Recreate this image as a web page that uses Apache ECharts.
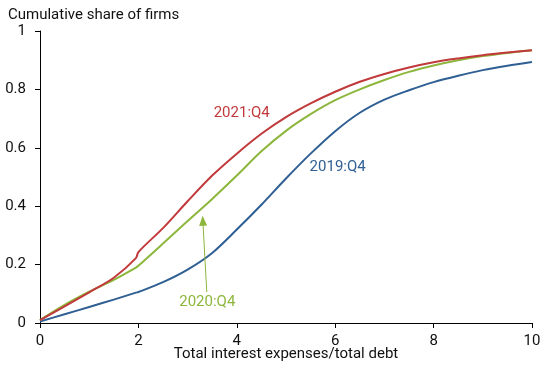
<!DOCTYPE html>
<html><head><meta charset="utf-8">
<script src="https://cdn.jsdelivr.net/npm/echarts@6/dist/echarts.min.js"></script>
<style>html,body{margin:0;padding:0;background:#fff}#c{width:550px;height:365px}</style>
</head><body><div id="c"></div>
<script>
const xValues = [0, 0.5, 1, 1.5, 1.95, 2, 2.5, 3, 3.5, 4, 4.5, 5, 5.5, 6, 6.5, 7, 7.5, 8, 8.5, 9, 9.5, 10];
const q4_2021 = [0.01, 0.057, 0.105, 0.155, 0.222, 0.243, 0.325, 0.417, 0.505, 0.58, 0.648, 0.705, 0.752, 0.792, 0.826, 0.853, 0.875, 0.893, 0.906, 0.917, 0.926, 0.934];
const q4_2020 = [0.01, 0.062, 0.107, 0.148, 0.19, 0.196, 0.272, 0.349, 0.425, 0.505, 0.588, 0.658, 0.715, 0.763, 0.80, 0.832, 0.86, 0.882, 0.9, 0.914, 0.925, 0.934];
const q4_2019 = [0.005, 0.03, 0.055, 0.08, 0.104, 0.106, 0.14, 0.183, 0.24, 0.32, 0.405, 0.495, 0.58, 0.657, 0.72, 0.765, 0.797, 0.825, 0.847, 0.866, 0.881, 0.894];
const seriesNames = ['2019:Q4', '2020:Q4', '2021:Q4'];
const xTicks = [0, 2, 4, 6, 8, 10];
const yTicks = [0, 0.2, 0.4, 0.6, 0.8, 1];
// label anchor points in data coordinates
const labelRed = [4.1, 0.72];
const labelBlue = [6.05, 0.535];
const labelGreen = [3.4, 0.072];
const arrowFrom = [3.39, 0.106];
const arrowTo = [3.31, 0.35];

const RED = '#c1393b', GREEN = '#8db63c', BLUE = '#2f5f93';
const pair = ys => xValues.map((x, i) => [x, ys[i]]);
const FONT = 'Roboto';

const chart = echarts.init(document.getElementById('c'), null, {renderer: 'canvas'});
const lbl = (coord, text, color) => ({
  coord: coord, value: text, symbolSize: 0,
  label: {show: true, formatter: text, color: color, fontSize: 15, fontFamily: FONT, position: 'inside'}
});
chart.setOption({
  animation: false,
  textStyle: {fontFamily: FONT},
  title: {text: 'Cumulative share of firms', left: 3, top: 3,
    textStyle: {fontSize: 15, fontWeight: 'normal', color: '#111', fontFamily: FONT}},
  grid: {left: 40, right: 18, top: 31, bottom: 42, containLabel: false, outerBoundsMode: 'none'},
  xAxis: {type: 'value', min: 0, max: 10, interval: 2,
    name: 'Total interest expenses/total debt', nameLocation: 'middle', nameGap: 24,
    nameMoveOverlap: false,
    nameTextStyle: {fontSize: 15, color: '#111', fontFamily: FONT},
    axisLine: {lineStyle: {color: '#000', width: 1}},
    axisTick: {show: true, length: 5, lineStyle: {color: '#000'}},
    axisLabel: {fontSize: 15, color: '#111', margin: 11, fontFamily: FONT,
      formatter: v => xTicks.includes(v) ? String(v) : ''},
    splitLine: {show: false}},
  yAxis: {type: 'value', min: 0, max: 1, interval: 0.2,
    axisLine: {show: true, lineStyle: {color: '#000', width: 1}},
    axisTick: {show: true, length: 5, lineStyle: {color: '#000'}},
    axisLabel: {fontSize: 15, color: '#111', margin: 14, fontFamily: FONT,
      formatter: v => { const t = yTicks.find(k => Math.abs(k - v) < 1e-9); return t === undefined ? '' : String(t); }},
    splitLine: {show: false}},
  series: [
    {name: seriesNames[0], type: 'line', data: pair(q4_2019), showSymbol: false, smooth: 0.3,
      lineStyle: {color: BLUE, width: 2}, itemStyle: {color: BLUE},
      markPoint: {data: [lbl(labelBlue, seriesNames[0], BLUE)]}},
    {name: seriesNames[1], type: 'line', data: pair(q4_2020), showSymbol: false, smooth: 0.3,
      lineStyle: {color: GREEN, width: 2}, itemStyle: {color: GREEN},
      markPoint: {data: [lbl(labelGreen, seriesNames[1], GREEN)]},
      markLine: {silent: true, symbol: ['none', 'triangle'], symbolSize: [8, 10],
        lineStyle: {color: GREEN, width: 1, type: 'solid'}, label: {show: false},
        data: [[{coord: arrowFrom}, {coord: arrowTo}]]}},
    {name: seriesNames[2], type: 'line', data: pair(q4_2021), showSymbol: false, smooth: 0.3,
      lineStyle: {color: RED, width: 2}, itemStyle: {color: RED},
      markPoint: {data: [lbl(labelRed, seriesNames[2], RED)]}}
  ]
});
</script></body></html>
